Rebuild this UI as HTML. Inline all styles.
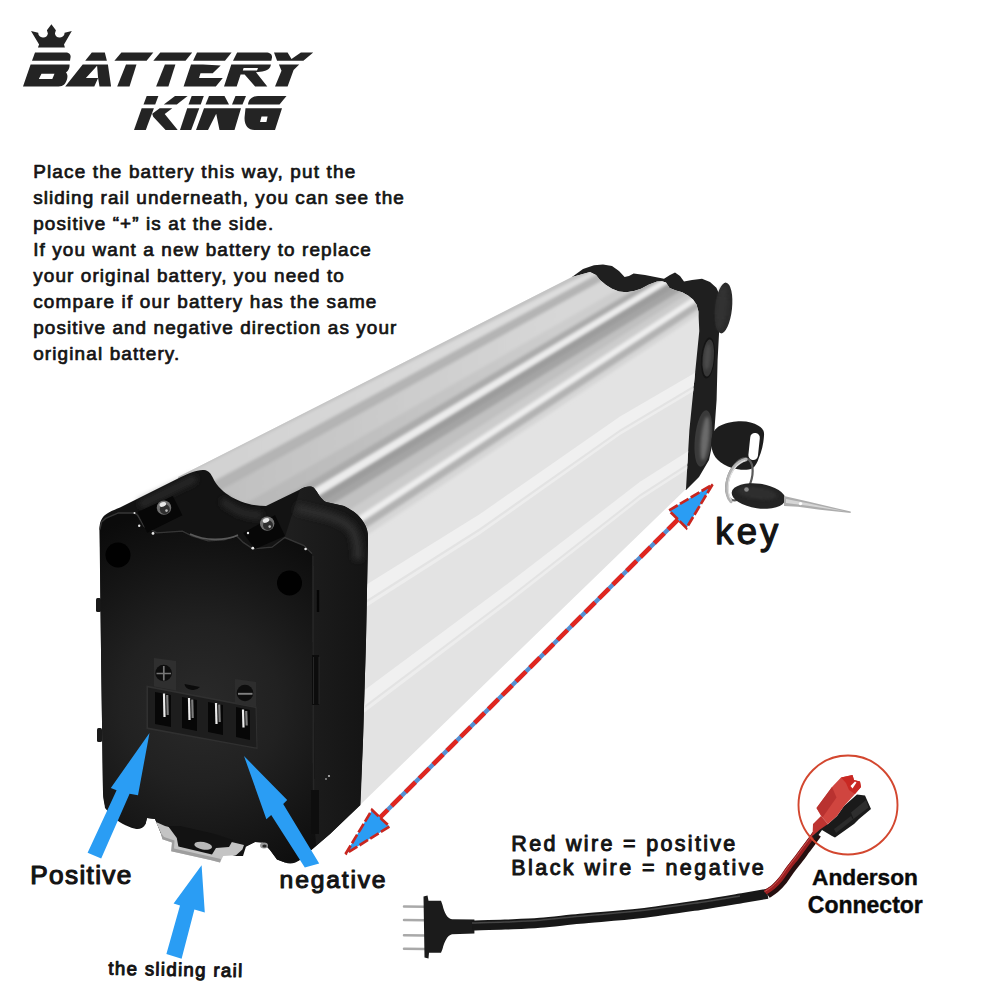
<!DOCTYPE html>
<html><head><meta charset="utf-8"><title>Battery King</title>
<style>
html,body{margin:0;padding:0;background:#fff;}
body{width:1000px;height:1000px;overflow:hidden;position:relative;font-family:"Liberation Sans",sans-serif;}
svg text{font-family:"Liberation Sans",sans-serif;}
</style></head><body>
<svg width="1000" height="1000" viewBox="0 0 1000 1000" style="position:absolute;left:0;top:0">
<defs>
<filter id="b1" filterUnits="userSpaceOnUse" x="0" y="0" width="1000" height="1000"><feGaussianBlur stdDeviation="1.6"/></filter>
<filter id="b05" filterUnits="userSpaceOnUse" x="0" y="0" width="1000" height="1000"><feGaussianBlur stdDeviation="0.6"/></filter>
<filter id="b3" filterUnits="userSpaceOnUse" x="0" y="0" width="1000" height="1000"><feGaussianBlur stdDeviation="3"/></filter>
<linearGradient id="wb1" gradientUnits="userSpaceOnUse" x1="230" y1="0" x2="560" y2="0"><stop offset="0" stop-color="#c0c0c0"/><stop offset="1" stop-color="#d7d7d7"/></linearGradient>
<linearGradient id="wb2" gradientUnits="userSpaceOnUse" x1="230" y1="0" x2="560" y2="0"><stop offset="0" stop-color="#b6b6b6"/><stop offset="1" stop-color="#cdcdcd"/></linearGradient>
<linearGradient id="wb0" gradientUnits="userSpaceOnUse" x1="230" y1="0" x2="560" y2="0"><stop offset="0" stop-color="#d2d2d2"/><stop offset="1" stop-color="#dedede"/></linearGradient>
</defs>
<polygon points="572.0,277.0 583.0,269.0 594.0,265.3 603.0,264.5 612.0,266.0 619.0,271.0 624.6,277.0 629.0,276.0 633.6,273.4 645.0,275.0 664.0,278.8 670.0,275.0 675.0,272.5 680.0,276.0 684.0,281.5 692.0,280.0 702.0,278.8 710.0,282.0 716.4,287.8 720.0,296.0 719.0,334.0 717.6,360.0 716.6,400.0 714.0,436.0 709.0,460.0 699.0,477.0 686.0,490.0 640.0,440.0 560.0,330.0" fill="#1f1f1f"/>
<ellipse cx="723.5" cy="308" rx="8.5" ry="25.5" transform="rotate(6 723.5 308)" fill="#2b2b2b"/>
<ellipse cx="721.5" cy="308" rx="5" ry="22" transform="rotate(6 721.5 308)" fill="#333" filter="url(#b1)"/>
<clipPath id="bodyclip"><polygon points="178.0,477.0 572.0,277.0 590.0,272.0 596.0,275.0 600.0,280.0 606.0,285.0 612.0,288.7 619.0,291.5 626.4,292.3 634.0,291.0 641.0,288.7 649.0,284.5 657.0,281.5 662.0,281.3 666.0,282.4 669.6,288.0 676.0,290.5 682.2,292.3 688.0,295.5 693.0,299.5 696.5,304.5 698.4,311.2 699.3,331.0 696.6,358.0 693.0,394.0 689.4,430.0 686.0,489.0 360.0,805.0 300.0,805.0 200.0,640.0"/></clipPath>
<g clip-path="url(#bodyclip)">
<rect x="150" y="250" width="600" height="600" fill="#e3e3e3"/>
<polygon points="340.0,601.0 367.0,584.2 480.0,514.0 620.0,416.5 693.0,374.0 720.0,358.0 720.0,370.0 693.0,386.0 620.0,429.5 480.0,528.0 367.0,599.8 340.0,617.0" fill="#f0f0f0"/>
<polygon points="340.0,619.7 367.0,602.5 480.0,530.8 620.0,432.0 693.0,388.4 720.0,372.2 720.0,375.2 693.0,391.4 620.0,435.0 480.0,534.3 367.0,606.5 340.0,623.7" fill="#ededed"/>
<polygon points="340.0,708.0 367.0,688.2 510.0,582.0 640.0,481.8 690.0,450.0 720.0,431.0 720.0,443.0 690.0,462.0 640.0,494.2 510.0,596.0 367.0,703.8 340.0,724.0" fill="#f0f0f0"/>
<polygon points="340.0,726.7 367.0,706.5 510.0,598.6 640.0,496.8 690.0,464.4 720.0,445.2 720.0,448.2 690.0,467.4 640.0,499.8 510.0,602.1 367.0,710.5 340.0,730.7" fill="#ededed"/>
<g filter="url(#b1)">
<polygon points="150.0,481.0 730.0,191.0 730.0,288.2 150.0,671.0" fill="#cfcfcf"/>
<polygon points="150.0,486.7 730.0,196.7 730.0,202.8 150.0,492.8" fill="#c2c2c2"/>
<polygon points="150.0,492.2 730.0,202.2 730.0,203.1 150.0,516.3" fill="url(#wb0)"/>
<polygon points="150.0,515.7 730.0,202.5 730.0,210.8 150.0,529.8" fill="#b4b4b4"/>
<polygon points="150.0,529.2 730.0,210.2 730.0,225.6 150.0,559.0" fill="url(#wb1)"/>
<polygon points="150.0,558.5 730.0,225.0 730.0,233.8 150.0,577.4" fill="url(#wb2)"/>
<polygon points="150.0,576.8 730.0,233.2 730.0,239.8 150.0,587.8" fill="#ababab"/>
<polygon points="150.0,587.2 730.0,239.2 730.0,246.3 150.0,598.7" fill="#ececec"/>
<polygon points="150.0,598.1 730.0,245.7 730.0,254.0 150.0,607.8" fill="#9c9c9c"/>
<polygon points="150.0,607.2 730.0,253.4 730.0,261.2 150.0,616.4" fill="#a4a4a4"/>
<polygon points="150.0,615.8 730.0,260.6 730.0,267.1 150.0,638.3" fill="#c0c0c0"/>
<polygon points="150.0,637.7 730.0,266.5 730.0,273.7 150.0,653.5" fill="#cccccc"/>
<polygon points="150.0,653.0 730.0,273.1 730.0,280.3 150.0,661.7" fill="#eeeeee"/>
<polygon points="150.0,661.1 730.0,279.7 730.0,288.5 150.0,671.3" fill="#b2b2b2"/>
<polygon points="150.0,670.7 730.0,287.9 730.0,293.8 150.0,679.5" fill="#d6d6d6"/>
</g>
</g>
<ellipse cx="708" cy="358" rx="7" ry="20.5" transform="rotate(5 708 358)" fill="#141414"/>
<ellipse cx="708.3" cy="358" rx="5.6" ry="18.5" transform="rotate(5 708.3 358)" fill="#383838"/>
<ellipse cx="707.5" cy="357" rx="3" ry="13" transform="rotate(5 707.5 357)" fill="#4c4c4c" filter="url(#b1)"/>
<ellipse cx="703.4" cy="438.5" rx="8.5" ry="28.5" transform="rotate(6 703.4 438.5)" fill="#3a3a3a"/>
<ellipse cx="705" cy="438.5" rx="4" ry="22" transform="rotate(6 705 438.5)" fill="#6a6a6a" filter="url(#b1)"/>
<path d="M711.3,442.5 C711.5,433 715,428 720.6,425.5 C727,422.5 736,421.2 741,421.3 C748,421.3 754,423 758,425.5 C762.5,428 764.5,431 764,435.7 C763.5,444 761.5,452 758.9,457.8 C757.5,462.5 755.5,466 752.9,468 C749,470 745,470 741,469.7 C735,469.3 729,467.5 724,464.6 C719,461.5 715.5,458 713.8,454.4 C712,450.5 711.2,446.5 711.3,442.5 Z" fill="#1d1d1d"/>
<rect x="749.3" y="433" width="9.6" height="27" rx="4.6" transform="rotate(6 754 446.5)" fill="#fff"/>
<ellipse cx="739.5" cy="479.4" rx="11.5" ry="22" transform="rotate(20 739.5 479.4)" fill="none" stroke="#5a5a5a" stroke-width="2.2"/>
<path d="M746,459.5 C737,462 729.5,470 727.3,482 C726,491 727.5,497.5 731,501.5" fill="none" stroke="#b4b4b4" stroke-width="3.4" stroke-linecap="round"/>
<path d="M745,460.5 C737.5,463 730.8,471 728.6,482 C727.4,490 728.6,496 731.2,500" fill="none" stroke="#e2e2e2" stroke-width="1.1" stroke-linecap="round"/>
<ellipse cx="758.5" cy="496" rx="27" ry="12.3" transform="rotate(8 758.5 496)" fill="#232323"/>
<ellipse cx="757" cy="493" rx="20" ry="6" transform="rotate(8 757 493)" fill="#2f2f2f" filter="url(#b1)"/>
<circle cx="746.5" cy="489.5" r="2.3" fill="#8a8a8a"/>
<polygon points="784,496 808,501.5 850.7,511.6 850.7,513 820,509.8 798,506.8 784,506" fill="#adadad"/>
<polygon points="786,499 808,503.2 846,511.6 808,505.8 786,503" fill="#d6d6d6"/>
<circle cx="800.5" cy="503.6" r="1.7" fill="#fff"/>
<path d="M99.5,530 C99.5,516 106,513 120,507.5 L178,478.5 C188,473.5 197,469.5 204,470 C209,470.5 211,474 213,478 C219,492 240,506 266,506 L300,489.5 C305,486.5 311,485.5 314,488 C318,492 320,499 326,502 L344,506 C354,511 360,516 364,523 C367,528 368,532 368,538 L366,640 L363,740 L360.5,805 L330,834 L299,860.5 C295,863.5 290,864.5 285,862.5 L277,859.5 L270,850 L263,842.5 L255,842 L246,846.5 L243,856 L236,856 L162,836 L158,826 L155,819 L147,818 L145.5,824 C144,827.5 141,829 137,829 C130,828 121,823.5 114,818 C108,813 103,806 103,792 L101,650 Z" fill="#131313"/>
<rect x="96" y="598" width="5" height="14" rx="1.5" fill="#1a1a1a"/>
<rect x="97" y="728" width="5" height="14" rx="1.5" fill="#1a1a1a"/>
<defs><radialGradient id="faceg" gradientUnits="userSpaceOnUse" cx="200" cy="705" r="200"><stop offset="0" stop-color="#2a2a2a"/><stop offset="0.4" stop-color="#212121"/><stop offset="0.75" stop-color="#141414"/><stop offset="1" stop-color="#0b0b0b"/></radialGradient><linearGradient id="sideg" x1="0" y1="0" x2="1" y2="0"><stop offset="0" stop-color="#1f1f1f"/><stop offset="1" stop-color="#141414"/></linearGradient></defs>
<path d="M312,553 L304,545.6 L284.8,537.6 L300,489.5 C305,486.5 311,485.5 314,488 C318,492 320,499 326,502 L344,506 C354,511 360,516 364,523 C367,528 368,532 368,538 L366,640 L363,740 L360,805 L330,834 L316,846 L312,800 Z" fill="url(#sideg)"/>
<path d="M296,508 C318,514 338,516 350,527 C356,533 358,545 358,560" stroke="#2d2d2d" stroke-width="9" fill="none" filter="url(#b3)"/>
<path d="M140,505 L196,478" stroke="#2a2a2a" stroke-width="7" fill="none" filter="url(#b3)"/>
<path d="M222,500 C235,512 250,516 262,515" stroke="#2c2c2c" stroke-width="7" fill="none" filter="url(#b3)"/>
<polygon points="99.8,529.6 101.5,522.0 105.6,518.4 118.4,513.0 134.4,513.0 137.6,515.2 144.0,526.4 156.8,532.8 182.4,531.2 192.0,536.0 208.0,540.8 224.0,539.8 236.8,536.0 243.2,542.4 252.8,548.8 272.0,547.2 284.8,537.6 304.0,545.6 312.0,553.6 313.0,700.0 313.0,800.0 316.0,846.0 299.0,860.5 285.0,862.5 277.0,859.5 270.0,850.0 263.0,842.5 255.0,842.0 246.0,846.5 162.0,836.0 155.0,819.0 147.0,818.0 145.5,824.0 137.0,829.0 114.0,818.0 105.0,808.0 103.0,792.0 101.0,650.0" fill="url(#faceg)"/>
<polyline points="99.8,529.6 101.5,522.0 105.6,518.4 118.4,513.0 134.4,513.0 137.6,515.2 144.0,526.4 156.8,532.8 182.4,531.2 192.0,536.0 208.0,540.8 224.0,539.8 236.8,536.0 243.2,542.4 252.8,548.8 272.0,547.2 284.8,537.6 304.0,545.6 312.0,553.6" fill="none" stroke="#363636" stroke-width="1.3" filter="url(#b05)"/>
<path d="M313,556 L313.5,800" stroke="#262626" stroke-width="1.4" fill="none" filter="url(#b05)"/>
<path d="M190,534 C205,541 225,541 238,535" stroke="#5a5a5a" stroke-width="1.6" fill="none" filter="url(#b05)"/>
<polygon points="137.6,512 172.8,496 182.4,515.2 147.2,532.8" fill="#070707"/>
<polygon points="243.2,533 275,515 285,536 255,549" fill="#070707"/>
<circle cx="164" cy="507.6" r="7.2" fill="#6f6f6f"/>
<circle cx="164.8" cy="509.20000000000005" r="5" fill="#2e2e2e"/>
<ellipse cx="162.8" cy="504.40000000000003" rx="3.4" ry="2.2" fill="#e8e8e8" transform="rotate(-20 162.8 504.40000000000003)"/>
<circle cx="166.5" cy="510.6" r="1.3" fill="#bdbdbd"/>
<circle cx="267.2" cy="523.6" r="7.2" fill="#6f6f6f"/>
<circle cx="268.0" cy="525.2" r="5" fill="#2e2e2e"/>
<ellipse cx="266.0" cy="520.4" rx="3.4" ry="2.2" fill="#e8e8e8" transform="rotate(-20 266.0 520.4)"/>
<circle cx="269.7" cy="526.6" r="1.3" fill="#bdbdbd"/>
<circle cx="139.2" cy="525.8" r="1.2" fill="#e6e6e6"/>
<circle cx="153" cy="533.4" r="1.4" fill="#e6e6e6"/>
<circle cx="134.5" cy="513" r="1.0" fill="#e6e6e6"/>
<circle cx="248" cy="533" r="1.2" fill="#e6e6e6"/>
<circle cx="252.8" cy="548.2" r="1.4" fill="#e6e6e6"/>
<circle cx="305.6" cy="549" r="1.3" fill="#e6e6e6"/>
<path d="M318,590 L318,612" stroke="#050505" stroke-width="2.4" fill="none"/>
<rect x="312" y="655" width="7" height="50" fill="#0c0c0c"/>
<path d="M313.5,657 L313.5,704 M319,657 L319,704" stroke="#2a2a2a" stroke-width="0.9" fill="none"/>
<rect x="311" y="790" width="8" height="44" fill="#0e0e0e"/>
<circle cx="329" cy="776" r="1.1" fill="#bbb"/><circle cx="326" cy="779" r="0.9" fill="#999"/>
<circle cx="118" cy="555" r="12.5" fill="#010101"/>
<circle cx="289.5" cy="583" r="12.5" fill="#010101"/>
<polygon points="146.5,685.5 256.5,706.5 257.5,749 146.5,729" fill="#303030"/>
<polygon points="148,687.5 255.5,708 256.5,747.5 148,727.5" fill="#1d1d1d"/>
<polygon points="154,658 176,661 176,690.5 154,686.5" fill="#2f2f2f"/>
<polygon points="235,679 256,682 256,707 235,703" fill="#2d2d2d"/>
<polygon points="155.0,692.0 171.0,695.0 171.0,727.0 155.0,724.0" fill="#070707"/>
<polygon points="182.0,697.0 197.0,700.0 197.0,731.0 182.0,728.0" fill="#070707"/>
<polygon points="208.0,702.0 223.0,705.0 223.0,735.0 208.0,732.0" fill="#070707"/>
<polygon points="236.0,707.0 250.0,710.0 250.0,740.0 236.0,737.0" fill="#070707"/>
<path d="M164,693.5 L164.5,717" stroke="#ececec" stroke-width="2.2" fill="none"/>
<path d="M167.2,695.0 L167.7,715" stroke="#7c7c7c" stroke-width="2.2" fill="none"/>
<path d="M189,698 L189.5,720" stroke="#ececec" stroke-width="2.2" fill="none"/>
<path d="M192.2,699.5 L192.7,718" stroke="#7c7c7c" stroke-width="2.2" fill="none"/>
<path d="M216,703 L216.5,724" stroke="#ececec" stroke-width="2.2" fill="none"/>
<path d="M219.2,704.5 L219.7,722" stroke="#7c7c7c" stroke-width="2.2" fill="none"/>
<path d="M243,709.5 L243.5,727.5" stroke="#ececec" stroke-width="2.2" fill="none"/>
<path d="M246.2,711.0 L246.7,725.5" stroke="#7c7c7c" stroke-width="2.2" fill="none"/>
<circle cx="163.6" cy="673" r="8.3" fill="#0d0d0d"/>
<path d="M156.5,673.5 H171 M163.8,666 V680.5" stroke="#777" stroke-width="1.7" fill="none"/>
<circle cx="245" cy="693" r="8.3" fill="#0d0d0d"/>
<path d="M238,693.8 H252.5" stroke="#808080" stroke-width="1.9" fill="none"/>
<path d="M184.5,684 A8.5,6.5 0 0 0 200,687 Z" fill="#0b0b0b"/>
<polygon points="156,822 160.8,833 162.4,839.2 172,842.4 171.2,851.2 210.4,860 220,862.4 223.2,856 236,855.2 242.4,849.6 244,845 215,838 180,830 165,826" fill="#c4c4c4"/>
<polygon points="160.8,833 162.4,839.2 172,842.4 171.2,851.2 210.4,860 220,862.4 221,859 174,848.5 174.5,840.5 164,837" fill="#9e9e9e"/>
<polygon points="168,826 176.8,838 178.4,846.4 212,854.4 216,848 229,847 233,840 215,834 180,826" fill="#121212"/>
<ellipse cx="203.2" cy="845.8" rx="9" ry="3.8" transform="rotate(10 203.2 845.8)" fill="#b8b8b8"/>
<ellipse cx="264" cy="845.5" rx="4" ry="3" fill="#9a9a9a"/>
<ellipse cx="264.5" cy="846" rx="2.2" ry="1.6" fill="#2a2a2a"/>
<g id="logo">
<path d="M31,31.1 L38.2,32.8 A4.9,4.9 0 0 0 47.9,33.5 L46.9,30.2 L51.4,24.2 L55.9,30.2 L54.9,33.5 A4.9,4.9 0 0 0 64.6,32.8 L71.8,31.1 L64,44.6 L64.9,47.6 L37.9,47.6 L39.1,44.6 Z" fill="#242424"/>
<path d="M35,52.5 L65.5,52.5 C69,52.5 70.8,54.5 70.6,57 L70,60.8 L32,60.8 Z" fill="#242424"/>
<path fill-rule="evenodd" d="M30.6,64.5 L69.6,64.5 C69.8,68 68.5,70.5 66,72.5 C67.5,74 67.8,76 67.2,78.5 C66,83.5 63.5,86.5 58.5,86.5 L23,86.5 Z M41.5,73.7 L54.5,73.7 L52.3,79 L38.8,79 Z" fill="#242424"/>
<polygon points="91.8,52.5 104.8,52.5 106.9,60.8 85.2,60.8" fill="#242424" />
<path fill-rule="evenodd" d="M82.7,64.5 L107.9,64.5 L111.1,86.5 L99.5,86.5 L98.1,78.1 L94.3,86.5 L65.2,86.5 Z M97.1,65.8 L85.9,78.1 L98.1,78.1 Z" fill="#242424"/>
<polygon points="121.4,52.5 153.3,52.5 146.6,60.8 114.4,60.8" fill="#242424" />
<polygon points="126.0,64.5 136.5,64.5 129.5,86.5 117.2,86.5" fill="#242424" />
<polygon points="160.3,52.5 192.2,52.5 185.5,60.8 153.3,60.8" fill="#242424" />
<polygon points="164.9,64.5 175.4,64.5 168.4,86.5 156.1,86.5" fill="#242424" />
<polygon points="197.0,52.5 231.6,52.5 225.0,60.8 193.1,60.8" fill="#242424" />
<polygon points="191.0,64.5 203.0,64.5 220.7,65.6 212.7,73.3 200.5,73.3 199.0,78.1 222.8,78.1 215.8,86.5 183.6,86.5" fill="#242424" />
<path d="M237.1,52.5 L266,52.5 C270,52.5 272.3,54.5 272,57.5 L271.3,60.8 L233,60.8 Z" fill="#242424"/>
<path fill-rule="evenodd" d="M231.3,64.5 L270.9,64.5 C270.5,68 268,70.5 262.3,71.6 L256,72.2 L267.3,86.5 L255.1,86.5 L244.6,74.4 L240.6,74.4 L236.7,86.5 L224,86.5 Z M243.6,68 L258,68 L257,70.4 L242.8,70.4 Z" fill="#242424"/>
<polygon points="274.0,52.5 287.6,52.5 291.5,59.0 300.9,52.5 313.2,52.5 303.4,60.8 277.1,60.8" fill="#242424" />
<polygon points="278.9,64.5 299.2,64.5 293.6,70.1 287.6,86.5 275.0,86.5 281.5,70.8" fill="#242424" />
<polygon points="146.7,96.1 158.4,96.1 155.2,104.4 143.5,104.4" fill="#242424" />
<polygon points="175.0,96.1 187.6,96.1 176.8,104.4 163.8,104.4" fill="#242424" />
<polygon points="141.7,108.2 153.9,108.2 145.8,130.0 134.0,130.0" fill="#242424" />
<polygon points="159.7,108.2 172.3,108.2 164.7,114.1 177.7,130.0 165.6,130.0 153.2,116.8 152.2,113.8" fill="#242424" />
<polygon points="191.7,96.1 203.8,96.1 200.7,104.4 188.5,104.4" fill="#242424" />
<polygon points="187.2,108.2 199.3,108.2 191.2,130.0 180.0,130.0" fill="#242424" />
<polygon points="209.0,96.1 224.5,96.1 229.0,104.4 205.5,104.4" fill="#242424" />
<polygon points="235.5,96.1 246.0,96.1 242.5,104.4 232.0,104.4" fill="#242424" />
<polygon points="204.0,108.2 241.0,108.2 234.5,130.0 219.5,130.0 216.2,113.8 208.0,130.0 196.0,130.0" fill="#242424" />
<path d="M258,96.1 L286.5,96.1 L279.5,104.4 L248,104.4 C248.5,99.5 252,96.1 258,96.1 Z" fill="#242424"/>
<path fill-rule="evenodd" d="M245.5,108.2 L282,108.2 L275,130 L254.5,130 C248,130 244,125 244.6,117 Z M261.5,116.6 L267.6,116.6 L266.4,122 L260,122 Z" fill="#242424"/>
</g>
<polygon points="149.5,733.0 138.0,795.2 129.6,793.8 101.2,858.4 87.6,852.8 116.6,790.2 110.8,788.0" fill="#2a9df4"/>
<polygon points="244.0,756.0 287.2,800.0 283.2,804.0 319.2,863.5 304.8,867.5 271.2,815.0 266.4,819.2" fill="#2a9df4"/>
<polygon points="201.6,865.2 204.8,912.4 194.4,909.6 181.6,958.8 166.4,954.0 180.0,905.4 173.6,903.6" fill="#2a9df4"/>
<path d="M379.5,818 L679.5,518" stroke="#558fd2" stroke-width="4.3" fill="none"/>
<path d="M379.5,818 L679.5,518" stroke="#e0261f" stroke-width="4.5" stroke-dasharray="14.1 5.45" stroke-dashoffset="2.39" fill="none"/>
<polygon points="345.5,854 372,810 389.5,826.5" fill="#2a9df4" stroke="#c8261f" stroke-width="2.7" stroke-dasharray="10 2.6" stroke-linejoin="miter"/>
<polygon points="712.5,484.5 686.5,528 669,510.5" fill="#2a9df4" stroke="#c8261f" stroke-width="2.7" stroke-dasharray="10 2.6" stroke-linejoin="miter"/>
<path d="M404,906.4 L425,906.6999999999999" stroke="#a9a9a9" stroke-width="2.5" stroke-linecap="round" fill="none" filter="url(#b05)"/>
<path d="M404,920 L425,920.3" stroke="#a9a9a9" stroke-width="2.5" stroke-linecap="round" fill="none" filter="url(#b05)"/>
<path d="M404,935.2 L425,935.5" stroke="#a9a9a9" stroke-width="2.5" stroke-linecap="round" fill="none" filter="url(#b05)"/>
<path d="M404,948.8 L425,949.0999999999999" stroke="#a9a9a9" stroke-width="2.5" stroke-linecap="round" fill="none" filter="url(#b05)"/>
<path d="M423.5,896.5 L427.5,895.5 L428.5,900.8 L441,900.8 L442.5,905 C444.5,913 447,918.5 452,919.3 L474.4,919.6 L474.4,933.4 L452,934.3 C447,935.5 444.5,942 442.5,949 L441,952.8 L429,952.8 L428.5,958.5 L424.5,957.5 Z" fill="#1b1b1b"/>
<path d="M472.0,925.6 C477.5,925.4 493.7,925.1 505.0,924.6 C516.3,924.1 527.5,923.8 540.0,922.8 C552.5,921.8 563.3,920.4 580.0,918.8 C596.7,917.2 620.0,915.7 640.0,913.4 C660.0,911.1 683.3,907.5 700.0,905.0 C716.7,902.5 728.8,900.4 740.0,898.5 C751.2,896.6 762.9,894.6 767.5,893.8" stroke="#181818" stroke-width="10" fill="none" stroke-linecap="butt"/>
<path d="M472.0,923.0 C477.5,922.8 493.7,922.5 505.0,922.0 C516.3,921.5 527.5,921.2 540.0,920.2 C552.5,919.2 563.3,917.8 580.0,916.2 C596.7,914.6 620.0,913.1 640.0,910.8 C660.0,908.5 683.3,904.9 700.0,902.4 C716.7,899.9 733.3,897.0 740.0,895.9" stroke="#444" stroke-width="1.5" fill="none" filter="url(#b05)"/>
<path d="M767.0,894.0 C768.3,893.1 772.3,890.8 775.0,888.5 C777.7,886.2 780.5,883.1 783.0,880.0 C785.5,876.9 787.3,873.6 790.0,870.0 C792.7,866.4 796.3,862.0 799.0,858.5 C801.7,855.0 803.8,851.9 806.0,849.0 C808.2,846.1 810.2,843.5 812.0,841.0 C813.8,838.5 816.2,835.2 817.0,834.0" stroke="#261010" stroke-width="9.2" fill="none"/>
<path d="M765.2,892.5 C766.5,891.6 770.5,889.3 773.2,887.0 C775.9,884.7 778.7,881.6 781.2,878.5 C783.7,875.4 785.5,872.1 788.2,868.5 C790.9,864.9 794.5,860.5 797.2,857.0 C799.9,853.5 802.0,850.4 804.2,847.5 C806.4,844.6 808.4,842.0 810.2,839.5 C812.0,837.0 814.4,833.7 815.2,832.5" stroke="#9c1f20" stroke-width="4.6" fill="none"/>
<path d="M764.4,891.8 C765.7,890.9 769.7,888.6 772.4,886.3 C775.1,884.0 777.9,880.9 780.4,877.8 C782.9,874.7 784.7,871.4 787.4,867.8 C790.1,864.2 793.7,859.8 796.4,856.3 C799.1,852.8 801.2,849.7 803.4,846.8 C805.6,843.9 807.6,841.3 809.4,838.8 C811.2,836.3 813.6,833.0 814.4,831.8" stroke="#c85050" stroke-width="1" fill="none" filter="url(#b05)"/>
<polygon points="857,794.5 865,795.5 871,809 859,819 854,824 835,837.5 832,836 822,830 815,840 812,836 822,826 828,824 837,816 844,806" fill="#1a1a1a"/>
<polygon points="851,812.5 866,800 868.5,807.5 853.5,819" fill="#2e2e2e"/>
<polygon points="834,829 851,816 853,819.5 836,833" fill="#2b2b2b"/>
<polygon points="816.5,808 832,787 841,777.5 852.5,775 854,780 860,781.5 861,787 855,794 844,806 837,816 828,824 821,816" fill="#d0453f"/>
<polygon points="816.5,808 832,787 836.5,797.5 822.5,817.5" fill="#b93230"/>
<polygon points="841,777.5 852.5,775 854,780 860,781.5 861,787 855,794 849,790 846,783" fill="#c92823"/>
<polygon points="821,816 828,824 820,829.5 812.5,836 813,824" fill="#bd3431"/>
<polygon points="850.5,786 855,781.5 856.5,782.5 852.5,788.5" fill="#fff"/>
<circle cx="848" cy="805" r="49.5" fill="none" stroke="#d3472f" stroke-width="1.9"/>
<text transform="translate(33.2,178.4) scale(1.04,1)" font-size="18.2" font-weight="400" fill="#141414" text-anchor="start" textLength="309.62" lengthAdjust="spacing" stroke="#141414" stroke-width="0.7" stroke-linejoin="round" xml:space="preserve">Place the battery this way, put the</text>
<text transform="translate(33.2,204.3) scale(1.04,1)" font-size="18.2" font-weight="400" fill="#141414" text-anchor="start" textLength="356.35" lengthAdjust="spacing" stroke="#141414" stroke-width="0.7" stroke-linejoin="round" xml:space="preserve">sliding rail underneath, you can see the</text>
<text transform="translate(33.2,230.2) scale(1.04,1)" font-size="18.2" font-weight="400" fill="#141414" text-anchor="start" textLength="230.77" lengthAdjust="spacing" stroke="#141414" stroke-width="0.7" stroke-linejoin="round" xml:space="preserve">positive “+” is at the side.</text>
<text transform="translate(33.2,256.1) scale(1.04,1)" font-size="18.2" font-weight="400" fill="#141414" text-anchor="start" textLength="324.62" lengthAdjust="spacing" stroke="#141414" stroke-width="0.7" stroke-linejoin="round" xml:space="preserve">If you want a new battery to replace</text>
<text transform="translate(33.2,282.0) scale(1.04,1)" font-size="18.2" font-weight="400" fill="#141414" text-anchor="start" textLength="298.65" lengthAdjust="spacing" stroke="#141414" stroke-width="0.7" stroke-linejoin="round" xml:space="preserve">your original battery, you need to</text>
<text transform="translate(33.2,307.9) scale(1.04,1)" font-size="18.2" font-weight="400" fill="#141414" text-anchor="start" textLength="330.00" lengthAdjust="spacing" stroke="#141414" stroke-width="0.7" stroke-linejoin="round" xml:space="preserve">compare if our battery has the same</text>
<text transform="translate(33.2,333.79999999999995) scale(1.04,1)" font-size="18.2" font-weight="400" fill="#141414" text-anchor="start" textLength="349.23" lengthAdjust="spacing" stroke="#141414" stroke-width="0.7" stroke-linejoin="round" xml:space="preserve">positive and negative direction as your</text>
<text transform="translate(33.2,359.7) scale(1.04,1)" font-size="18.2" font-weight="400" fill="#141414" text-anchor="start" textLength="140.48" lengthAdjust="spacing" stroke="#141414" stroke-width="0.7" stroke-linejoin="round" xml:space="preserve">original battery.</text>
<text transform="translate(30.3,884)" font-size="26.2" font-weight="400" fill="#141414" text-anchor="start" textLength="101.00" lengthAdjust="spacing" stroke="#141414" stroke-width="1.2" stroke-linejoin="round" xml:space="preserve">Positive</text>
<text transform="translate(279.6,888)" font-size="24.7" font-weight="400" fill="#141414" text-anchor="start" textLength="106.00" lengthAdjust="spacing" stroke="#141414" stroke-width="1.1" stroke-linejoin="round" xml:space="preserve">negative</text>
<text transform="translate(108.3,974.6) rotate(1.1)" font-size="18.7" font-weight="400" fill="#141414" text-anchor="start" textLength="133.80" lengthAdjust="spacing" stroke="#141414" stroke-width="1.0" stroke-linejoin="round" xml:space="preserve">the sliding rail</text>
<text transform="translate(715.3,543.8)" font-size="36.5" font-weight="400" fill="#141414" text-anchor="start" textLength="63.00" lengthAdjust="spacing" stroke="#141414" stroke-width="1.25" stroke-linejoin="round" xml:space="preserve">key</text>
<text transform="translate(511.3,850.8)" font-size="21.5" font-weight="400" fill="#141414" text-anchor="start" textLength="224.00" lengthAdjust="spacing" stroke="#141414" stroke-width="1.0" stroke-linejoin="round" xml:space="preserve">Red wire = positive</text>
<text transform="translate(511.3,875.2)" font-size="21.5" font-weight="400" fill="#141414" text-anchor="start" textLength="252.50" lengthAdjust="spacing" stroke="#141414" stroke-width="1.0" stroke-linejoin="round" xml:space="preserve">Black wire = negative</text>
<text transform="translate(865,885.3)" font-size="22.7" font-weight="700" fill="#0a0a0a" text-anchor="middle" stroke="#0a0a0a" stroke-width="0.4" stroke-linejoin="round" xml:space="preserve">Anderson</text>
<text transform="translate(865.3,912.5)" font-size="23" font-weight="700" fill="#0a0a0a" text-anchor="middle" stroke="#0a0a0a" stroke-width="0.4" stroke-linejoin="round" xml:space="preserve">Connector</text>
<!--MORE5-->
</svg>
</body></html>
